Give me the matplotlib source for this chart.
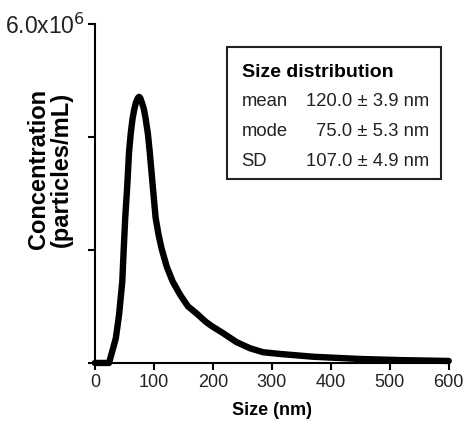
import matplotlib
matplotlib.use("Agg")
import matplotlib.pyplot as plt
import numpy as np

plt.rcParams['font.family'] = ['Liberation Sans', 'DejaVu Sans']

# particle size (nm) and concentration (x1e6 particles/mL)
size_nm = [0, 24, 28, 32, 35.6, 41, 46.5, 49, 51.5, 55, 58, 61, 64, 67, 70, 73,
           75, 77, 80, 83, 86, 90, 93, 98, 103, 108, 113, 122, 132, 145, 158,
           172, 189, 200, 217, 240, 263, 285, 313, 370, 450, 520, 600]
conc_e6 = [0, 0, 0.15, 0.3, 0.44, 0.85, 1.44, 2.03, 2.57, 3.15, 3.74, 4.08, 4.33,
           4.5, 4.62, 4.69, 4.71, 4.69, 4.6, 4.5, 4.33, 4.05, 3.74, 3.15, 2.57,
           2.27, 2.03, 1.7, 1.44, 1.2, 1.0, 0.88, 0.72, 0.64, 0.53, 0.37, 0.26,
           0.19, 0.16, 0.11, 0.07, 0.05, 0.035]

x_ticks = [0, 100, 200, 300, 400, 500, 600]
y_ticks = [0, 2e6, 4e6, 6e6]
y_tick_labels = ['', '', '', '6.0x10$^{6}$']

stat_names = ['mean', 'mode', 'SD']
stat_values = ['120.0 \u00b1 3.9 nm', '75.0 \u00b1 5.3 nm', '107.0 \u00b1 4.9 nm']

fig = plt.figure(figsize=(4.65, 4.28), dpi=100)
ax = fig.add_axes([0.204, 0.152, 0.761, 0.792])

ax.plot(np.array(size_nm), np.array(conc_e6) * 1e6, color='black', lw=4.6,
        solid_capstyle='round', solid_joinstyle='round', clip_on=False)

ax.set_xlim(0, 600)
ax.set_ylim(0, 6e6)
ax.set_xticks(x_ticks)
ax.set_yticks(y_ticks)
ax.set_yticklabels(y_tick_labels)
ax.tick_params(axis='x', labelsize=13, length=5, width=1.5, pad=3, colors='black',
               labelcolor='#222222')
ax.tick_params(axis='y', labelsize=16.5, length=5, width=1.5, pad=2, colors='black',
               labelcolor='#222222')

for s in ['top', 'right']:
    ax.spines[s].set_visible(False)
for s in ['left', 'bottom']:
    ax.spines[s].set_linewidth(1.5)

fig.text(0.586, 0.040, 'Size (nm)', fontsize=13, fontweight='bold',
         ha='center', va='center')
fig.text(0.107, 0.605, 'Concentration\n(particles/mL)', fontsize=17,
         fontweight='bold', rotation=90, ha='center', va='center',
         linespacing=1.0)

# stats box
box = plt.Rectangle((0.373, 0.543), 0.606, 0.390, transform=ax.transAxes,
                    fill=False, edgecolor='#222222', lw=1.5, clip_on=False)
ax.add_patch(box)
ax.text(0.417, 0.843, 'Size distribution', transform=ax.transAxes,
        fontsize=14, fontweight='bold', va='baseline', ha='left')
row_y = [0.758, 0.669, 0.581]
for name, val, yy in zip(stat_names, stat_values, row_y):
    ax.text(0.414, yy, name, transform=ax.transAxes, fontsize=13.3,
            va='baseline', ha='left', color='#222222')
    ax.text(0.944, yy, val, transform=ax.transAxes, fontsize=13.3,
            va='baseline', ha='right', color='#222222')

fig.savefig('out.png', dpi=100)
